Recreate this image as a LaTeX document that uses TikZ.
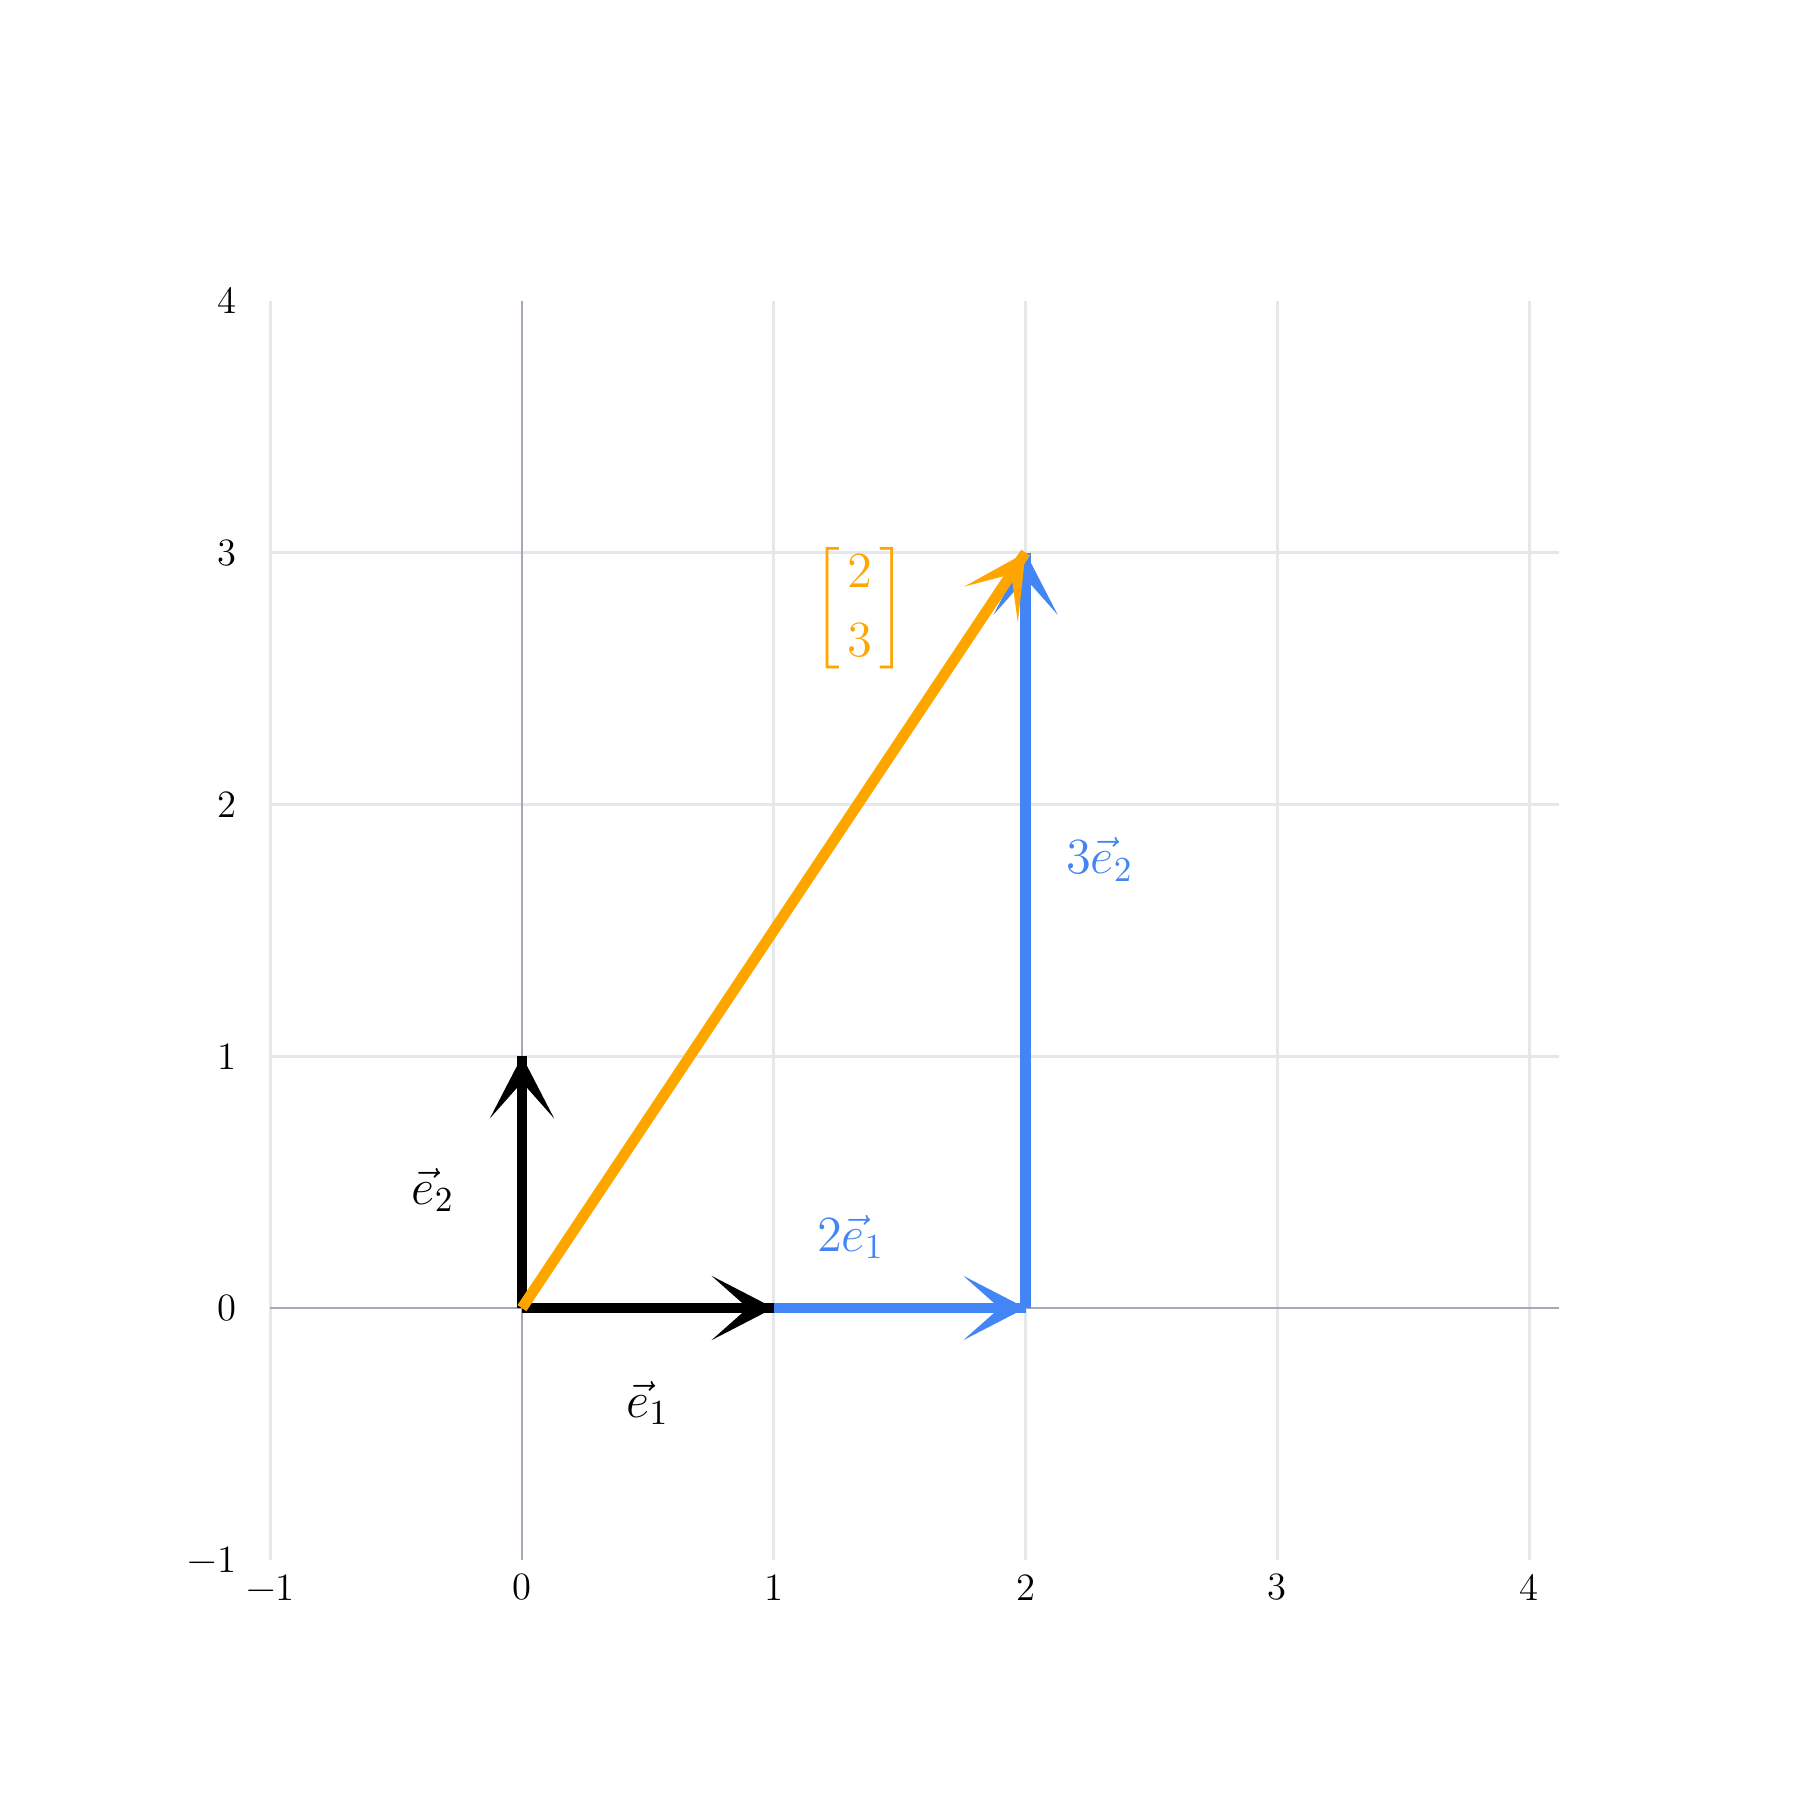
\documentclass[tikz,border=0pt]{standalone}
\usepackage{amsmath}
\usetikzlibrary{arrows.meta}
\definecolor{gridgray}{HTML}{E6E7EA}
\definecolor{axisgray}{HTML}{A3A9B5}
\definecolor{vblue}{HTML}{4285F4}
\definecolor{vorange}{HTML}{FFA500}
\tikzset{
  gridline/.style={draw=gridgray, line width=0.27mm},
  axisline/.style={draw=axisgray, line width=0.27mm},
  vecline/.style={line width=1.05mm,
    postaction={draw, -{Stealth[length=6.2mm, width=6.4mm, inset=3.6mm]}}},
  ticklab/.style={font=\fontsize{11}{13}\selectfont, inner sep=0pt},
  veclab/.style={font=\fontsize{14}{17}\selectfont, inner sep=0pt},
}
\begin{document}
\begin{tikzpicture}
\useasboundingbox (0,0) rectangle (18,18);
\begin{scope}[shift={(5.22,4.92)}, x=2.518cm, y=2.518cm]
  % grid
  \foreach \i in {-1,1,2,3,4} \draw[gridline] (\i,-1) -- (\i,4);
  \foreach \j in {1,2,3} \draw[gridline] (-1,\j) -- (4.118,\j);
  % zero lines
  \draw[axisline] (-1,0) -- (4.118,0);
  \draw[axisline] (0,-1) -- (0,4);
  % tick labels
  \foreach \i/\t in {-1/{−1},0/0,1/1,2/2,3/3,4/4}
    \node[ticklab] (xt\i) at (\i,-1.11) {\t};
  \foreach \j/\t in {-1/{−1},0/0,1/1,2/2,3/3,4/4}
    \node[ticklab, anchor=east] (yt\j) at (-1.132,\j) {\t};
  % points
  \coordinate (O) at (0,0);
  \coordinate (E1) at (1,0);
  \coordinate (E2) at (0,1);
  \coordinate (P) at (2,0);
  \coordinate (V) at (2,3);
  % vectors
  \draw[vecline, draw=vblue, fill=vblue] (E1) -- (P);
  \draw[vecline, draw=vblue, fill=vblue] (P) -- (V);
  \draw[vecline, draw=black, fill=black] (O) -- (E1);
  \draw[vecline, draw=black, fill=black] (O) -- (E2);
  \draw[vecline, draw=vorange, fill=vorange] (O) -- (V);
  % labels
  \node[veclab] (le1) at (0.50,-0.377) {$\vec{e}_1$};
  \node[veclab] (le2) at (-0.353,0.469) {$\vec{e}_2$};
  \node[veclab, text=vblue] (l2e1) at (1.305,0.282) {$2\vec{e}_1$};
  \node[veclab, text=vblue] (l3e2) at (2.294,1.782) {$3\vec{e}_2$};
  \node[veclab, text=vorange] (lv) at (1.342,2.778)
    {\renewcommand{\arraystretch}{1.15}\delimiterfactor=850 \delimitershortfall=10pt
     $\left[\mskip2.5mu\begin{matrix}2\\3\end{matrix}\mskip2.5mu\right]$};
\end{scope}
\end{tikzpicture}
\end{document}
